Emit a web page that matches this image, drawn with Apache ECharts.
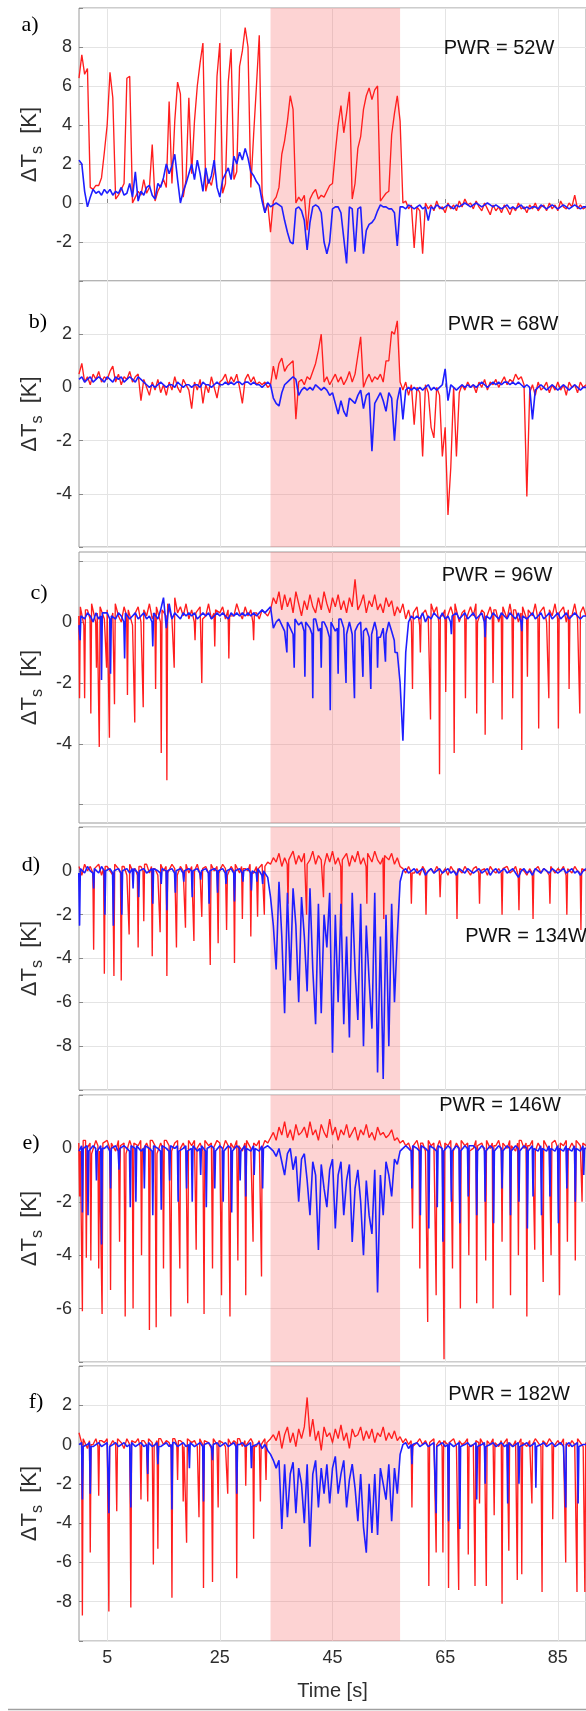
<!DOCTYPE html>
<html>
<head>
<meta charset="utf-8">
<script src="https://cdn.jsdelivr.net/npm/echarts@6/dist/echarts.min.js"></script>
<style>
  html, body { margin: 0; padding: 0; background: #fff; }
  #chart { width: 586px; height: 1711px; }
</style>
</head>
<body>
<div id="chart"></div>
<script>
// sampling step of the base traces [s]
const T_STEP = 0.5
// half width of a narrow spike [s]
const SPIKE_W = 0.14
const xTicks = [5, 25, 45, 65, 85]
const shade = [34, 57]

const panelLetters = ['a)', 'b)', 'c)', 'd)', 'e)', 'f)']
const pwrLabels = ['PWR = 52W', 'PWR = 68W', 'PWR = 96W', 'PWR = 134W', 'PWR = 146W', 'PWR = 182W']
const yMin = [-4, -6, -6.6, -10, -8, -10]
const yMax = [10, 4, 2.3, 2, 2, 4]
const yTickVals = [
  [-4, -2, 0, 2, 4, 6, 8, 10],
  [-6, -4, -2, 0, 2, 4],
  [-6, -4, -2, 0, 2],
  [-10, -8, -6, -4, -2, 0, 2],
  [-8, -6, -4, -2, 0, 2],
  [-10, -8, -6, -4, -2, 0, 2, 4],
]
const yLabelVals = [
  [-2, 0, 2, 4, 6, 8],
  [-4, -2, 0, 2],
  [-4, -2, 0],
  [-8, -6, -4, -2, 0],
  [-6, -4, -2, 0],
  [-8, -6, -4, -2, 0, 2],
]

// a) 52W
const redA = [
  6.4, 7.6, 6.6, 6.9, 0.8, 0.7, 0.9, 0.9, 1.3, 2.6,
  4.0, 6.7, 5.4, 0.2, 0.4, 0.7, 1.0, 6.4, 6.5, 0.0,
  0.3, 0.6, 0.4, 1.2, 0.5, 0.8, 3.0, 0.1, 0.6, 0.9,
  1.2, 0.8, 5.2, 1.0, 4.2, 6.2, 5.6, 0.3, 1.2, 5.4,
  1.5, 4.2, 6.0, 7.2, 8.2, 0.6, 1.2, 0.9, 1.6, 6.5,
  8.2, 0.5, 1.0, 6.2, 7.9, 1.2, 1.6, 7.0, 7.8, 9.0,
  8.0, 0.8, 3.5, 6.0, 8.6, 0.5, -0.5, 0.0, -1.5, 0.1,
  0.3, 0.8, 2.5, 3.2, 4.2, 5.5, 4.8, 0.0, 0.3, 0.1,
  0.4, -1.4, 0.2, 0.5, 0.7, 0.2, 0.4, 0.3, 0.6, 0.9,
  1.0, 2.6, 4.0, 5.0, 3.6, 4.6, 5.7, 0.2, 1.0, 2.8,
  3.4, 4.8, 5.5, 5.9, 5.3, 5.8, 6.0, 0.1, 0.3, 0.5,
  0.6, 3.5, 4.6, 5.5, 4.2, 0.0, 0.1, -0.3, -0.1, -2.3,
  -0.2, -0.4, -2.6, 0.0, -0.3, -0.1, -0.4, 0.1, -0.3, -0.2,
  -0.5, 0.0, -0.3, -0.1, -0.4, 0.1, -0.2, 0.2, -0.1, 0.0,
  -0.3, 0.1, -0.2, -0.4, 0.0, -0.3, -0.6, -0.1, -0.4, -0.2,
  -0.5, -0.1, -0.3, -0.6, -0.2, -0.4, 0.0, -0.3, -0.2, -0.5,
  -0.1, -0.3, 0.0, -0.4, -0.2, -0.1, -0.4, 0.0, -0.3, -0.1,
  -0.4, 0.1, -0.2, -0.3, 0.0, -0.2, 0.4, -0.3, -0.1, -0.3,
  -0.2
]
const blueA = [
  2.2, 2.0, 0.6, -0.2, 0.3, 0.7, 0.5, 0.6, 0.4, 0.7,
  0.5, 0.7, 0.4, 0.6, 0.5, 0.8, 0.4, 0.5, 1.0, 0.3,
  1.6, 0.1, 0.6, 0.4, 0.8, 0.9, 0.4, 0.2, 1.0, 0.8,
  1.3, 2.0, 1.5, 1.9, 2.5, 1.2, 0.0, 0.6, 1.0, 1.5,
  2.0, 1.2, 2.2, 1.5, 0.6, 1.8, 1.0, 1.4, 2.2, 0.8,
  0.3, 1.2, 1.5, 1.8, 1.2, 2.4, 2.0, 2.6, 2.2, 2.8,
  2.3, 1.6, 1.4, 1.1, 0.9, 0.1, -0.5, 0.0, -0.2, -0.1,
  0.0, -0.1, -0.2, -0.9, -1.5, -2.0, -2.1, -0.3, -0.2, -0.4,
  -0.9, -2.4, -1.0, -0.2, -0.1, -0.2, -0.5, -2.0, -2.6, -2.0,
  -0.3, -0.2, -0.2, -0.5, -1.8, -3.1, -0.2, -0.3, -2.5, -0.3,
  -0.2, -2.6, -1.4, -1.1, -1.0, -0.8, -0.4, -0.1, -0.2, -0.2,
  -0.3, -0.3, -0.5, -2.2, -0.2, -0.2, -0.3, -0.1, -0.2, -0.3,
  -0.2, -0.1, -0.3, -0.2, -0.9, -0.2, -0.3, -0.1, -0.2, -0.3,
  -0.2, -0.1, -0.2, -0.3, -0.1, -0.2, -0.1, 0.0, -0.1, -0.2,
  -0.1, 0.0, -0.1, -0.2, -0.1, 0.0, -0.1, -0.2, -0.1, -0.2,
  -0.3, -0.2, -0.1, -0.3, -0.2, -0.3, -0.2, -0.1, -0.3, -0.2,
  -0.3, -0.2, -0.2, -0.3, -0.1, -0.2, -0.3, -0.2, -0.1, -0.2,
  -0.3, -0.2, -0.1, -0.2, -0.3, -0.2, -0.1, -0.2, -0.3, -0.2,
  -0.2
]

// b) 68W
const redB = [
  0.5, 0.9, 0.2, 0.4, 0.1, 0.5, 0.3, 0.6, 0.2, 0.4,
  0.3, 0.6, 0.8, 0.2, 0.5, 0.1, 0.4, 0.3, 0.6, 0.2,
  0.4, 0.5, -0.5, 0.3, 0.0, -0.3, 0.2, -0.1, 0.3, -0.2,
  0.1, -0.3, 0.2, -0.1, 0.4, 0.0, -0.2, 0.3, 0.1, -0.1,
  -0.8, 0.2, -0.1, 0.3, -0.6, 0.1, -0.2, 0.4, 0.0, -0.4,
  0.2, 0.3, 0.5, 0.1, 0.4, 0.2, 0.5, 0.0, -0.6, 0.3,
  0.5, 0.2, 0.4, 0.1, 0.2, 0.1, 0.2, 0.0, 0.1, 0.8,
  0.3, 0.9, 1.1, 0.6, 0.8, 0.9, 1.0, -1.2, 0.2, 0.3,
  0.1, 0.4, 0.3, 0.6, 0.9, 1.4, 2.0, 0.2, 0.4, 0.1,
  0.3, 0.5, 0.2, 0.4, 0.1, 0.3, 0.6, 0.2, 0.5, 1.2,
  1.9, 0.0, 0.3, 0.5, 0.2, 0.4, 0.3, 0.5, 0.2, 1.0,
  1.0, 2.1, 2.0, 2.5, 0.2, -0.1, 0.2, -0.3, 0.1, -1.4,
  0.0, -0.2, -2.6, 0.1, -0.2, -1.5, -1.9, 0.0, -0.3, -2.6,
  -1.5, -4.8, -3.0, 0.0, -2.6, -0.2, 0.1, -0.1, 0.2, 0.0,
  0.1, -0.2, 0.2, 0.0, 0.3, -0.1, 0.2, 0.1, 0.3, 0.0,
  0.2, 0.4, 0.1, 0.3, 0.2, 0.5, 0.3, 0.4, 0.1, -4.1,
  -0.2, 0.1, -0.3, 0.2, -0.1, 0.0, 0.2, -0.2, 0.1, -0.1,
  0.2, -0.1, 0.1, -0.3, 0.2, 0.0, 0.1, -0.2, 0.2, 0.0,
  0.1
]
const blueB = [
  0.3, 0.4, 0.2, 0.3, 0.4, 0.2, 0.3, 0.4, 0.3, 0.2,
  0.4, 0.3, 0.2, 0.4, 0.3, 0.4, 0.2, 0.3, 0.4, 0.3,
  0.2, 0.4, 0.3, 0.2, 0.1, 0.0, 0.1, 0.0, 0.1, 0.2,
  0.1, 0.0, 0.1, 0.1, 0.0, 0.2, 0.1, 0.0, 0.1, 0.1,
  0.0, 0.1, 0.1, 0.0, 0.2, 0.1, 0.1, 0.0, 0.1, 0.2,
  0.1, 0.1, 0.2, 0.1, 0.2, 0.1, 0.2, 0.2, 0.1, 0.2,
  0.2, 0.1, 0.2, 0.1, 0.1, 0.0, 0.1, 0.2, 0.1, -0.4,
  -0.6, -0.7, -0.2, 0.1, 0.2, 0.3, 0.4, 0.3, -0.3, -0.1,
  0.0, -0.1, 0.0, -0.1, 0.1, 0.0, -0.1, 0.0, -0.1, -0.3,
  -0.2, -0.6, -1.0, -0.5, -0.9, -1.1, -0.4, -0.5, -0.6, -0.3,
  -0.1, -0.8, -0.3, -0.2, -2.4, -0.6, -0.4, -0.2, -0.5, -0.9,
  -0.2, -0.4, -2.0, -0.5, 0.0, -1.2, -0.1, 0.0, -0.1, 0.0,
  -0.1, 0.0, -0.1, 0.0, 0.1, -0.1, 0.0, -0.1, 0.0, 0.1,
  0.7, -0.5, 0.1, 0.0, -0.1, 0.0, 0.1, 0.0, 0.1, 0.0,
  0.1, 0.0, 0.1, 0.2, 0.1, 0.0, 0.1, 0.2, 0.1, 0.2,
  0.1, 0.2, 0.2, 0.1, 0.2, 0.1, 0.2, 0.1, 0.0, 0.1,
  0.0, -1.2, -0.1, 0.0, 0.1, 0.0, -0.1, 0.0, 0.1, 0.0,
  -0.1, 0.0, 0.1, 0.0, -0.1, 0.0, 0.1, 0.0, -0.1, 0.0,
  0.0
]

// c) 96W
const redC = [
  0.2, 0.5, -0.1, 0.4, 0.1, 0.6, 0.0, 0.3, 0.5, 0.1,
  0.4, -0.1, 0.3, 0.6, 0.2, 0.0, 0.5, 0.2, 0.4, -0.1,
  0.3, 0.5, 0.0, 0.4, 0.2, 0.6, 0.1, 0.3, 0.5, 0.0,
  0.4, 0.2, 0.6, 0.1, 0.8, 0.3, 0.5, 0.2, 0.6, 0.1,
  0.4, 0.0, 0.3, 0.5, 0.1, 0.2, 0.6, 0.1, 0.3, 0.4,
  0.3, 0.5, 0.1, 0.4, 0.2, 0.2, 0.6, 0.3, 0.1, 0.5,
  0.2, 0.4, 0.0, 0.3, 0.1, 0.4, 0.3, 0.2, 0.4, 0.8,
  0.6, 1.0, 0.4, 0.9, 0.5, 0.8, 0.3, 1.0, 0.6, 0.2,
  0.7, 0.4, 0.9, 0.5, 0.3, 0.8, 0.4, 1.0, 0.6, 0.3,
  0.8, 0.5, 0.9, 0.4, 0.7, 0.3, 0.8, 0.5, 1.4, 0.4,
  0.6, 0.9, 0.3, 0.7, 0.5, 0.9, 0.4, 0.6, 0.3, 0.8,
  0.5, 0.7, 0.2, 0.5, 0.3, 0.6, 0.1, 0.4, 0.0, 0.3,
  0.5, -0.1, 0.2, 0.4, 0.1, 0.6, 0.3, 0.5, 0.0, 0.2,
  0.4, 0.1, 0.5, 0.2, 0.6, 0.0, 0.3, 0.4, 0.1, 0.5,
  0.2, 0.6, 0.0, 0.4, 0.3, 0.1, 0.5, 0.2, 0.4, 0.0,
  0.3, 0.5, 0.1, 0.6, 0.2, 0.4, 0.0, 0.3, 0.5, 0.1,
  0.4, 0.2, 0.6, 0.1, 0.3, 0.5, 0.0, 0.4, 0.2, 0.6,
  0.1, 0.3, 0.5, 0.0, 0.4, 0.2, 0.6, 0.1, 0.3, 0.5,
  0.2
]
const redCSpikes = [
  [0.1, -2.5], [1.0, -2.5], [2.1, -3.0], [3.1, -1.5], [3.6, -4.1], [4.9, -1.5], [5.4, -3.8],
  [6.3, -2.7], [8.6, -2.4], [9.9, -3.3], [11.4, -2.8], [13.6, -2.2], [14.6, -4.3], [15.6, -5.2],
  [16.9, -1.5], [20.6, -0.6], [21.8, -2.0], [24.1, -0.8], [26.6, -1.2], [31.0, -0.6],
  [59.2, -2.2], [60.6, -1.0], [62.4, -3.2], [64.0, -5.0], [65.1, -2.3], [66.6, -4.3], [68.6, -2.5],
  [70.6, -3.0], [72.1, -3.7], [73.5, -2.0], [75.1, -3.2], [77.0, -2.5], [78.6, -4.2], [79.6, -1.8],
  [81.6, -3.5], [83.4, -2.5], [85.1, -3.5], [87.0, -2.2], [88.9, -3.0],
]
const blueC = [
  -0.1, 0.2, 0.1, 0.3, 0.2, 0.0, 0.3, 0.1, 0.2, 0.3,
  0.3, 0.1, 0.2, 0.1, 0.3, 0.2, 0.0, 0.3, 0.1, 0.2,
  0.3, 0.1, 0.2, 0.3, 0.1, 0.2, 0.0, 0.3, 0.1, 0.4,
  0.8, -0.2, 0.6, 0.1, 0.3, 0.2, 0.1, 0.3, 0.2, 0.3,
  0.2, 0.3, 0.1, 0.2, 0.3, 0.2, 0.3, 0.1, 0.2, 0.3,
  0.2, 0.3, 0.2, 0.1, 0.3, 0.2, 0.3, 0.2, 0.3, 0.2,
  0.3, 0.2, 0.3, 0.2, 0.3, 0.4, 0.3, 0.4, 0.5, -0.2,
  0.0, 0.1, -0.1, -0.3, 0.0, -0.2, -0.4, 0.1, -0.1, 0.0,
  -0.3, 0.0, -0.2, -0.4, 0.1, -0.3, -0.2, 0.0, -0.2, -0.5,
  0.0, -0.3, -0.2, 0.1, -0.2, -0.4, 0.0, -0.4, -0.3, -0.1,
  0.0, -0.3, -0.2, -0.5, -0.4, 0.0, -0.3, -0.5, -0.2, -0.4,
  0.0, -0.3, -0.6, -1.0, -2.0, -3.9, -1.0, 0.0, 0.2, 0.1,
  0.2, 0.1, 0.3, 0.0, 0.2, 0.1, 0.3, 0.2, 0.1, 0.3,
  0.1, 0.2, 0.0, 0.2, 0.3, 0.1, 0.2, 0.3, 0.1, 0.2,
  0.3, 0.1, 0.2, 0.3, 0.0, 0.2, 0.1, 0.3, 0.2, 0.1,
  0.3, 0.2, 0.1, 0.3, 0.2, 0.1, 0.3, 0.0, 0.2, 0.1,
  0.2, 0.3, 0.1, 0.2, 0.3, 0.1, 0.2, 0.3, 0.1, 0.2,
  0.3, 0.1, 0.2, 0.3, 0.1, 0.2, 0.3, 0.2, 0.1, 0.2,
  0.2
]
const blueCSpikes = [
  [0.2, -0.6], [4.0, -1.9], [5.6, -1.7], [8.1, -1.2], [13.1, -0.8],
  [36.9, -1.0], [38.2, -1.5], [40.1, -1.8], [41.5, -2.5], [43.0, -1.5], [44.6, -2.9], [46.0, -1.7],
  [47.4, -2.0], [48.9, -2.5], [50.4, -1.8], [51.8, -2.2], [53.0, -1.5], [54.4, -1.3], [56.1, -1.0],
  [66.1, -0.4], [72.1, -0.5], [78.6, -0.3],
]

// d) 134W
const redD = [
  0.2, -0.2, 0.3, 0.0, 0.2, -0.1, 0.1, 0.3, -0.2, 0.1,
  0.2, 0.0, -0.2, 0.3, 0.1, -0.1, 0.2, -0.2, 0.3, 0.0,
  0.1, -0.2, 0.2, 0.0, 0.3, -0.1, 0.2, 0.1, -0.2, 0.3,
  0.0, 0.2, -0.1, 0.3, 0.1, -0.2, 0.2, 0.0, 0.3, -0.1,
  0.2, 0.0, 0.3, -0.2, 0.1, 0.2, -0.1, 0.3, 0.0, 0.2,
  -0.1, 0.3, 0.1, -0.2, 0.2, 0.0, 0.3, -0.1, 0.2, 0.1,
  0.0, 0.3, -0.1, 0.2, 0.1, 0.3, 0.2, 0.4, 0.3, 0.6,
  0.4, 0.8, 0.2, 0.6, 0.3, 0.5, 0.9, 0.3, 0.7, 0.4,
  0.8, 0.3, 0.5, 0.9, 0.3, 0.7, 0.5, 0.2, 0.8, 0.4,
  0.9, 0.3, 0.6, 0.2, 0.5, 0.8, 0.2, 0.7, 0.4, 0.9,
  0.3, 0.6, 0.2, 0.8, 0.4, 0.9, 0.5, 0.3, 0.6, 0.7,
  0.5, 0.8, 0.3, 0.6, 0.2, 0.1, -0.1, 0.2, 0.0, -0.1,
  0.1, -0.2, 0.2, 0.0, -0.1, 0.1, -0.1, 0.2, 0.0, -0.2,
  0.1, -0.2, 0.2, 0.0, -0.1, 0.1, -0.1, 0.2, 0.0, -0.2,
  0.1, 0.2, -0.1, 0.0, 0.1, -0.2, 0.2, 0.0, -0.1, 0.1,
  -0.1, 0.1, 0.2, -0.1, 0.0, 0.2, -0.2, 0.1, 0.0, -0.2,
  0.1, -0.1, 0.0, 0.2, -0.1, 0.1, 0.0, -0.2, 0.2, -0.1,
  0.1, 0.0, 0.2, -0.2, 0.1, -0.1, 0.2, 0.0, -0.1, 0.1,
  0.0
]
const redDSpikes = [
  [2.6, -3.6], [4.5, -4.7], [6.2, -4.8], [7.5, -5.0], [8.9, -2.9], [10.5, -3.5], [11.5, -2.3],
  [13.0, -3.9], [14.4, -2.8], [15.6, -4.8], [17.3, -3.5], [18.9, -2.6], [20.4, -3.2], [21.8, -2.1],
  [23.3, -4.3], [24.7, -3.3], [26.2, -2.7], [27.6, -4.2], [29.0, -2.2], [30.5, -3.0], [31.7, -2.1],
  [32.9, -2.0], [37.1, -1.5], [40.4, -2.0], [43.4, -1.2], [46.6, -2.5], [51.1, -1.5], [54.1, -2.2],
  [59.0, -1.5], [61.6, -2.0], [64.1, -1.2], [67.1, -2.2], [71.1, -1.5], [75.1, -2.0], [78.1, -1.8],
  [80.6, -2.2], [83.6, -1.5], [86.6, -2.0], [89.1, -2.7],
]
const blueD = [
  -0.1, 0.1, -0.1, 0.2, 0.0, -0.1, 0.1, -0.1, 0.2, 0.0,
  0.0, 0.1, -0.1, 0.0, 0.1, -0.1, 0.0, 0.1, -0.1, 0.1,
  0.1, -0.1, 0.0, 0.1, -0.1, 0.0, 0.1, 0.1, 0.0, -0.1,
  0.1, 0.0, 0.0, 0.1, -0.1, 0.0, 0.1, -0.1, 0.0, 0.1,
  0.0, 0.0, 0.1, -0.1, 0.0, 0.1, -0.1, 0.0, 0.1, 0.0,
  0.0, 0.1, -0.1, 0.0, 0.1, -0.1, 0.0, 0.1, -0.1, 0.0,
  0.1, -0.1, 0.0, -0.1, 0.1, -0.2, 0.0, -0.3, -1.2, -2.5,
  -4.5, -0.5, -3.0, -6.5, -1.0, -5.0, -0.8, -2.5, -6.0, -1.2,
  -3.0, -5.5, -0.8, -4.5, -7.0, -1.5, -6.5, -2.0, -3.5, -1.0,
  -8.3, -2.0, -6.0, -1.5, -7.0, -3.0, -7.6, -1.0, -4.5, -6.8,
  -1.5, -8.0, -2.5, -5.0, -7.2, -1.0, -9.2, -3.0, -9.5, -2.0,
  -8.0, -1.5, -6.0, -3.0, -0.5, 0.0, 0.1, -0.1, 0.0, 0.1,
  -0.1, 0.0, 0.1, -0.2, 0.0, 0.1, -0.1, 0.0, 0.1, -0.1,
  0.0, 0.1, -0.1, 0.0, -0.2, 0.1, 0.0, -0.1, 0.1, 0.0,
  -0.1, 0.0, 0.1, -0.1, 0.0, 0.1, -0.2, 0.0, 0.1, -0.1,
  0.0, 0.1, -0.1, 0.0, 0.1, -0.1, -0.3, 0.0, 0.1, -0.1,
  0.0, -0.2, 0.1, 0.0, -0.1, 0.1, 0.0, -0.1, 0.1, 0.0,
  -0.1, 0.0, 0.1, -0.1, 0.0, 0.1, -0.1, 0.0, -0.2, 0.0,
  0.1
]
const blueDSpikes = [
  [0.1, -2.5], [2.6, -0.8], [4.6, -2.0], [6.1, -2.5], [7.6, -2.0], [9.6, -0.8], [10.6, -1.2],
  [13.1, -1.5], [14.6, -0.6], [15.6, -1.8], [17.1, -1.0], [18.6, -0.5], [20.1, -1.2], [21.6, -0.4],
  [23.1, -1.5], [24.6, -1.0], [26.1, -0.6], [27.6, -1.4], [29.1, -0.5], [30.6, -0.9], [31.6, -0.5],
  [32.6, -0.6],
]

// e) 146W
const redE = [
  0.2, -0.1, 0.3, 0.0, 0.2, -0.2, 0.3, 0.1, -0.1, 0.2,
  0.3, 0.0, 0.2, -0.1, 0.3, 0.1, 0.2, -0.2, 0.3, 0.0,
  0.2, 0.1, 0.3, -0.1, 0.2, 0.0, 0.3, 0.1, -0.2, 0.2,
  0.0, 0.3, 0.1, -0.1, 0.2, 0.3, 0.0, 0.2, -0.1, 0.3,
  0.1, 0.3, 0.0, 0.2, -0.1, 0.3, 0.1, 0.2, 0.0, 0.3,
  0.2, -0.1, 0.3, 0.1, 0.2, 0.0, 0.3, 0.1, -0.1, 0.2,
  0.3, 0.0, 0.2, 0.1, 0.3, 0.0, 0.3, 0.2, 0.4, 0.6,
  0.3, 0.8, 0.5, 1.0, 0.4, 0.7, 0.3, 0.9, 0.5, 0.6,
  0.8, 0.4, 1.0, 0.5, 0.7, 0.3, 0.9, 0.6, 0.4, 1.1,
  0.5, 0.8, 0.3, 0.7, 0.5, 0.9, 0.4, 0.6, 0.8, 0.3,
  0.7, 0.5, 0.9, 0.4, 0.6, 0.3, 0.8, 0.5, 0.6, 0.4,
  0.5, 0.7, 0.3, 0.4, 0.2, 0.3, 0.1, 0.2, -0.1, 0.1,
  0.3, 0.0, 0.2, -0.1, 0.3, 0.1, 0.2, 0.0, 0.3, -0.1,
  0.2, 0.1, 0.3, -0.1, 0.2, 0.0, 0.3, 0.1, 0.2, -0.1,
  0.0, 0.3, 0.1, 0.2, -0.1, 0.3, 0.0, 0.2, 0.1, 0.3,
  -0.1, 0.2, 0.0, 0.3, 0.1, -0.1, 0.2, 0.3, 0.0, 0.2,
  0.1, 0.3, -0.1, 0.2, 0.0, 0.3, 0.1, -0.1, 0.2, 0.3,
  0.0, 0.2, 0.1, 0.3, -0.1, 0.2, 0.0, 0.3, 0.1, 0.2,
  0.1
]
const redESpikes = [
  [0.1, -1.8], [0.6, -6.1], [1.3, -4.1], [2.1, -4.2], [3.5, -4.5], [4.1, -6.2], [5.6, -5.3],
  [7.2, -3.5], [8.2, -6.3], [9.6, -6.0], [11.1, -4.0], [12.5, -6.8], [13.7, -6.7], [15.0, -4.5],
  [16.3, -6.3], [17.9, -4.5], [19.3, -5.8], [20.8, -3.8], [22.2, -6.2], [23.7, -4.5], [25.3, -5.5],
  [26.8, -6.3], [28.2, -4.2], [29.6, -5.5], [30.9, -3.5], [32.4, -4.8],
  [59.2, -3.0], [60.5, -4.5], [61.9, -6.5], [63.4, -5.5], [64.8, -7.9], [66.3, -4.5], [67.7, -6.0],
  [69.2, -4.0], [70.6, -5.8], [72.2, -4.2], [73.5, -6.0], [75.1, -3.5], [76.6, -5.5], [78.0, -4.0],
  [79.5, -6.3], [80.9, -3.8], [82.4, -5.0], [83.8, -4.0], [85.3, -5.5], [86.7, -3.5], [88.1, -4.2],
  [89.3, -2.0],
]
const blueE = [
  -0.1, 0.1, 0.0, 0.1, -0.1, 0.1, 0.0, -0.1, 0.1, 0.0,
  0.1, -0.1, 0.0, 0.1, -0.1, 0.0, 0.1, 0.0, -0.1, 0.1,
  0.0, 0.1, -0.1, 0.0, 0.1, 0.0, -0.1, 0.1, 0.0, -0.1,
  0.1, 0.0, -0.1, 0.1, 0.0, 0.1, -0.1, 0.0, 0.1, -0.1,
  0.0, 0.1, -0.1, 0.0, 0.1, -0.1, 0.0, 0.1, 0.0, -0.1,
  0.1, 0.0, -0.1, 0.1, 0.0, -0.1, 0.1, 0.0, -0.1, 0.1,
  0.0, -0.1, 0.1, 0.0, -0.1, 0.1, 0.0, 0.1, 0.0, -0.1,
  -0.3, 0.0, -0.5, -1.0, -0.2, 0.0, -0.8, -0.3, -2.0, -0.4,
  -0.2, -1.2, -2.5, -0.5, -1.0, -3.8, -0.6, -1.5, -2.2, -0.8,
  -0.4, -3.0, -1.0, -0.5, -2.5, -1.2, -0.6, -3.5, -1.5, -0.8,
  -2.0, -4.0, -1.2, -2.5, -3.2, -0.8, -5.4, -1.0, -2.5, -0.5,
  -1.0, -1.8, -0.4, -0.6, -0.1, 0.0, 0.1, 0.0, -0.1, 0.1,
  0.0, -0.1, 0.1, 0.0, -0.1, 0.1, 0.0, -0.1, 0.1, 0.0,
  -0.1, 0.1, 0.0, -0.1, 0.1, 0.0, -0.1, 0.1, 0.0, 0.1,
  0.1, 0.0, -0.1, 0.1, 0.0, -0.1, 0.1, 0.0, -0.1, 0.1,
  0.0, -0.1, 0.1, 0.0, -0.1, 0.1, 0.0, -0.1, 0.1, 0.0,
  -0.1, 0.1, 0.0, -0.1, 0.1, 0.0, -0.1, 0.1, 0.0, -0.1,
  0.1, 0.0, -0.1, 0.1, 0.0, -0.1, 0.1, 0.0, -0.1, 0.1,
  0.0
]
const blueESpikes = [
  [0.6, -2.4], [1.6, -2.5], [3.1, -1.2], [4.0, -3.6], [5.6, -1.5], [7.1, -0.8], [9.1, -2.2],
  [10.1, -2.0], [11.6, -1.5], [13.1, -2.5], [14.6, -2.3], [16.1, -1.2], [17.6, -2.0], [19.1, -1.5],
  [20.1, -2.0], [21.6, -1.0], [22.6, -2.2], [24.1, -1.5], [25.6, -2.0], [27.1, -2.4], [28.6, -1.2],
  [29.6, -1.8], [31.1, -1.0], [32.6, -1.5],
  [59.1, -1.5], [60.6, -2.5], [62.1, -3.0], [63.6, -2.2], [64.6, -3.5], [66.1, -2.0], [67.6, -2.8],
  [69.1, -1.8], [70.6, -2.5], [72.1, -2.0], [73.6, -2.8], [75.1, -1.5], [76.6, -2.5], [78.1, -2.0],
  [79.6, -3.0], [80.6, -1.8], [82.1, -2.5], [83.6, -1.8], [85.1, -2.8], [86.6, -1.5], [88.1, -2.0],
  [89.6, -1.0],
]

// f) 182W
const redF = [
  0.6, 0.1, 0.3, -0.2, 0.2, 0.0, 0.3, -0.1, 0.2, 0.1,
  0.3, -0.1, 0.2, 0.0, 0.3, 0.1, -0.2, 0.3, 0.0, 0.2,
  0.1, 0.3, -0.1, 0.2, 0.0, 0.3, 0.1, -0.1, 0.2, 0.3,
  0.0, 0.2, 0.1, -0.2, 0.3, 0.0, 0.2, 0.1, -0.1, 0.3,
  0.1, 0.2, -0.1, 0.3, 0.0, 0.2, 0.1, -0.2, 0.3, 0.0,
  0.2, 0.1, -0.1, 0.3, 0.0, 0.2, 0.1, 0.3, -0.1, 0.2,
  0.0, 0.3, 0.1, -0.1, 0.2, 0.0, 0.3, 0.1, 0.3, 0.5,
  0.2, 0.7, -0.2, 0.5, 0.9, 0.1, 0.6, -0.1, 0.8, 0.3,
  0.9, 2.4, 0.4, 1.3, 0.2, 0.7, -0.3, 0.9, 0.4, 0.6,
  0.1, 0.8, 0.3, 1.0, 0.2, 0.6, -0.2, 0.8, 0.4, 0.5,
  0.9, 0.2, 0.7, 0.3, 0.8, 0.1, 0.6, 0.4, 0.9, 0.2,
  0.6, 0.3, 0.7, 0.2, 0.4, 0.1, 0.3, 0.0, 0.2, -0.1,
  0.1, 0.3, 0.0, 0.2, -0.1, 0.1, 0.3, 0.0, 0.2, -0.1,
  0.2, 0.0, 0.1, 0.3, -0.1, 0.2, 0.0, 0.1, 0.3, -0.1,
  0.0, 0.2, 0.1, 0.3, -0.1, 0.2, 0.0, 0.3, 0.1, -0.1,
  0.2, 0.0, 0.3, 0.1, -0.1, 0.2, 0.0, 0.3, 0.1, -0.1,
  0.2, 0.0, 0.3, 0.1, -0.1, 0.2, 0.0, 0.3, 0.1, -0.1,
  0.2, 0.0, 0.3, 0.1, -0.1, 0.2, 0.0, 0.3, 0.1, -0.1,
  0.1
]
const redFSpikes = [
  [0.6, -8.7], [2.0, -5.5], [3.5, -2.6], [5.3, -8.5], [6.7, -3.4], [9.2, -8.3], [11.0, -2.8],
  [12.2, -2.9], [13.2, -6.1], [14.0, -5.3], [16.5, -7.8], [17.5, -1.8], [18.5, -2.9], [19.1, -5.0],
  [21.3, -3.7], [22.1, -7.3], [23.7, -7.0], [24.7, -3.2], [26.4, -2.5], [28.0, -6.8], [29.6, -2.1],
  [31.0, -4.8], [32.2, -2.9], [33.2, -1.8],
  [59.1, -3.2], [62.1, -7.2], [63.4, -5.5], [64.6, -5.5], [65.6, -7.3], [67.4, -7.4], [69.1, -5.6],
  [70.3, -7.2], [71.1, -3.0], [72.3, -7.2], [73.7, -3.6], [75.1, -8.1], [76.3, -5.4], [77.8, -6.9],
  [78.6, -6.6], [80.4, -3.0], [82.2, -7.5], [84.1, -3.8], [86.4, -6.0], [88.4, -7.5], [89.8, -7.5],
]
const blueF = [
  0.0, 0.1, -0.1, 0.0, 0.1, -0.1, 0.0, 0.1, -0.1, 0.0,
  0.1, -0.1, 0.0, 0.1, -0.1, 0.0, 0.1, -0.1, 0.0, 0.1,
  -0.1, 0.0, 0.1, -0.1, 0.0, 0.1, -0.1, 0.0, 0.1, -0.1,
  0.0, 0.1, -0.1, 0.0, 0.1, -0.1, 0.0, 0.1, -0.1, 0.0,
  0.1, -0.1, 0.0, 0.1, -0.1, 0.0, 0.1, -0.1, 0.0, 0.1,
  -0.1, 0.0, 0.1, -0.1, 0.0, 0.1, -0.1, 0.0, 0.1, -0.1,
  0.0, 0.1, -0.1, 0.0, 0.1, -0.2, 0.0, -0.3, -0.5, -0.8,
  -1.2, -0.8, -4.3, -1.0, -3.7, -1.5, -0.9, -3.5, -1.2, -2.0,
  -4.0, -1.0, -5.2, -1.5, -0.8, -3.2, -1.2, -2.5, -1.0, -3.0,
  -1.2, -0.6, -2.5, -1.5, -0.8, -3.2, -1.8, -1.0, -2.2, -3.9,
  -1.5, -4.2, -5.5, -2.0, -4.5, -1.5, -4.6, -1.2, -2.0, -2.8,
  -1.0, -3.9, -1.2, -2.5, -0.5, 0.0, 0.1, -0.2, 0.0, 0.0,
  0.1, -0.1, 0.0, 0.1, -0.1, 0.0, 0.1, -0.1, 0.0, 0.1,
  -0.1, 0.0, 0.1, -0.1, 0.0, 0.1, -0.1, 0.0, 0.1, -0.1,
  0.0, 0.1, -0.1, 0.0, 0.1, -0.1, 0.0, 0.1, -0.1, 0.0,
  0.1, -0.1, 0.0, 0.1, -0.1, 0.0, 0.1, -0.1, 0.0, 0.1,
  -0.1, 0.0, 0.1, -0.1, 0.0, 0.1, -0.1, 0.0, 0.1, -0.1,
  0.0, 0.1, -0.1, 0.0, 0.1, -0.1, 0.0, 0.1, -0.1, 0.0,
  0.0
]
const blueFSpikes = [
  [0.6, -2.8], [2.0, -2.5], [5.3, -3.5], [9.2, -3.2], [12.2, -1.5], [14.0, -1.0], [16.5, -3.3],
  [19.6, -1.2], [22.1, -2.9], [23.7, -0.8], [28.0, -2.5], [30.6, -1.2],
  [59.1, -1.0], [63.4, -3.5], [65.6, -3.9], [67.6, -4.3], [70.6, -2.8], [72.1, -2.0], [76.1, -3.0],
  [78.1, -2.0], [81.1, -2.2], [86.4, -3.2], [88.6, -3.0],
]

const reds = [redA, redB, redC, redD, redE, redF]
const blues = [blueA, blueB, blueC, blueD, blueE, blueF]
const redSpikes = [[], [], redCSpikes, redDSpikes, redESpikes, redFSpikes]
const blueSpikes = [[], [], blueCSpikes, blueDSpikes, blueESpikes, blueFSpikes]

// layout of the six stacked panels (pixels)
const boxes = [
  { top: 8, h: 273 },
  { top: 281, h: 266 },
  { top: 552, h: 271 },
  { top: 827, h: 263 },
  { top: 1095, h: 267 },
  { top: 1366, h: 275 },
]
const letterPos = [[30, 25], [38, 322], [39, 593], [31, 865], [31, 1143], [36, 1402]]
const pwrPos = [[499, 48], [503, 324], [497, 575], [526, 936], [500, 1105], [509, 1394]]

const FONT = '"Liberation Sans", Arial, sans-serif'
const RED = '#ff1e1e'
const BLUE = '#1e1eff'
const TXT = '#2e2e2e'
const GRIDC = '#e4e4e4'

// base samples plus narrow spikes, whose shoulders reuse the neighbouring samples
function buildTrace(base, spikes) {
  let pts = base.map((v, i) => [i * T_STEP, v])
  spikes.forEach(([t, v]) => {
    let i0 = Math.floor(t / T_STEP)
    let i1 = Math.min(i0 + 1, base.length - 1)
    pts.push([t - SPIKE_W, base[i0]], [t, v], [t + SPIKE_W, base[i1]])
  })
  return pts.sort((a, b) => a[0] - b[0])
}

const chart = echarts.init(document.getElementById('chart'), null, { renderer: 'canvas' })

let grid = [], xAxis = [], yAxis = [], series = [], graphic = []
boxes.forEach((b, i) => {
  grid.push({
    left: 79, top: b.top, width: 508, height: b.h,
    show: true, borderColor: '#9a9a9a', borderWidth: 1, backgroundColor: 'transparent',
  })
  xAxis.push({
    gridIndex: i, type: 'value', min: 0, max: 90,
    axisLine: { show: false },
    axisTick: { show: true, inside: true, length: 4, customValues: xTicks, lineStyle: { color: '#888' } },
    axisLabel: { show: i === 5, customValues: xTicks, fontSize: 18, fontFamily: FONT, color: TXT, margin: 8 },
    splitLine: { show: true, lineStyle: { color: GRIDC, width: 1 } },
    name: i === 5 ? 'Time [s]' : '',
    nameLocation: 'middle', nameGap: 40,
    nameTextStyle: { fontSize: 20, fontFamily: FONT, color: TXT },
  })
  yAxis.push({
    gridIndex: i, type: 'value', min: yMin[i], max: yMax[i],
    axisLine: { show: false },
    axisTick: { show: true, inside: true, length: 4, customValues: yTickVals[i], lineStyle: { color: '#888' } },
    axisLabel: { customValues: yLabelVals[i], fontSize: 18, fontFamily: FONT, color: TXT, margin: 7 },
    splitLine: { show: true, lineStyle: { color: GRIDC, width: 1 } },
    name: '{m|ΔT}{s|s}{m|  [K]}',
    nameLocation: 'middle', nameRotate: 90, nameGap: 31,
    nameTextStyle: {
      color: TXT,
      rich: {
        m: { fontSize: 22, fontFamily: FONT, color: TXT },
        s: { fontSize: 16, fontFamily: FONT, color: TXT, padding: [15, 0, 0, 0] },
      },
    },
  })
  // shaded interval
  series.push({
    type: 'line', xAxisIndex: i, yAxisIndex: i, data: [], silent: true, z: 1,
    markArea: {
      silent: true,
      itemStyle: { color: 'rgba(248,110,110,0.3)' },
      data: [[{ xAxis: shade[0] }, { xAxis: shade[1] }]],
    },
  })
  series.push({
    type: 'line', xAxisIndex: i, yAxisIndex: i, data: buildTrace(reds[i], redSpikes[i]),
    symbol: 'none', silent: true, z: 2,
    lineStyle: { color: RED, width: 1.35 }, itemStyle: { color: RED },
  })
  series.push({
    type: 'line', xAxisIndex: i, yAxisIndex: i, data: buildTrace(blues[i], blueSpikes[i]),
    symbol: 'none', silent: true, z: 3,
    lineStyle: { color: BLUE, width: 1.6 }, itemStyle: { color: BLUE },
  })
  graphic.push({
    type: 'text', x: letterPos[i][0], y: letterPos[i][1], z: 10,
    style: { text: panelLetters[i], font: '22px "Liberation Serif", "Times New Roman", serif', fill: '#000', align: 'center', verticalAlign: 'middle' },
  })
  graphic.push({
    type: 'text', x: pwrPos[i][0], y: pwrPos[i][1], z: 10,
    style: { text: pwrLabels[i], font: '20px ' + FONT, fill: '#111', align: 'center', verticalAlign: 'middle' },
  })
})
graphic.push({
  type: 'line', z: 10,
  shape: { x1: 8, y1: 1709.5, x2: 586, y2: 1709.5 },
  style: { stroke: '#a0a0a0', lineWidth: 1.5 },
})

chart.setOption({
  animation: false,
  backgroundColor: '#fff',
  grid, xAxis, yAxis, series, graphic,
})
</script>
</body>
</html>
